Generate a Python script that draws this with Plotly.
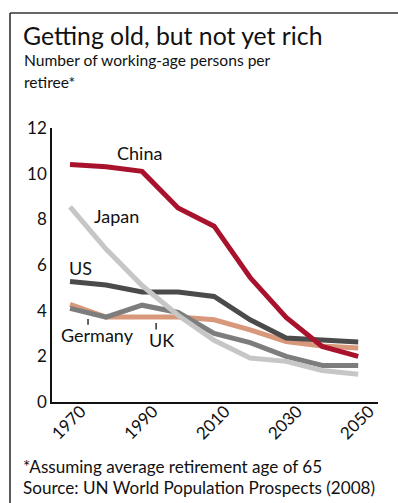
import plotly.graph_objects as go

# Decades on the horizontal axis
years = [1970, 1980, 1990, 2000, 2010, 2020, 2030, 2040, 2050]

# Working-age persons per retiree
china = [10.4, 10.3, 10.1, 8.5, 7.7, 5.45, 3.7, 2.43, 2.0]
japan = [8.55, 6.7, 5.1, 3.8, 2.7, 1.93, 1.78, 1.38, 1.22]
us = [5.28, 5.12, 4.82, 4.82, 4.62, 3.6, 2.8, 2.72, 2.63]
germany = [4.28, 3.72, 3.72, 3.72, 3.6, 3.16, 2.65, 2.45, 2.37]
uk = [4.1, 3.72, 4.24, 3.92, 3.0, 2.6, 2.0, 1.6, 1.6]

tick_years = [1970, 1990, 2010, 2030, 2050]
tick_text = ["1970", "1990", "2010", "2030", "2050"]
y_ticks = [0, 2, 4, 6, 8, 10, 12]

FONT = "Lato"
W, H = 398, 503
ML, MR, MT, MB = 52, 20, 128, 101
PW, PH = W - ML - MR, H - MT - MB


def px(x):
    return (x - ML) / PW


def py(y):
    return (H - MB - y) / PH


fig = go.Figure()

series = [
    ("Germany", germany, "#d8987b"),
    ("UK", uk, "#7d7d7d"),
    ("US", us, "#4b4b4b"),
    ("Japan", japan, "#c6c6c6"),
    ("China", china, "#a9122c"),
]
for name, vals, color in series:
    fig.add_trace(go.Scatter(
        x=years, y=vals, mode="lines", name=name,
        line=dict(color=color, width=5), showlegend=False,
    ))

# Series labels
labels = [
    ("China", 1989.2, 10.9),
    ("Japan", 1982.8, 8.15),
    ("US", 1973.0, 5.87),
    ("Germany", 1977.5, 2.95),
    ("UK", 1995.5, 2.7),
]
for text, x, y in labels:
    fig.add_annotation(x=x, y=y, text=text, showarrow=False,
                       font=dict(family=FONT, size=18, color="#111"))

# Short leader ticks for Germany and UK
for x, y0, y1 in [(1975.0, 3.38, 3.64), (1993.9, 3.17, 3.46)]:
    fig.add_shape(type="line", x0=x, x1=x, y0=y0, y1=y1,
                  line=dict(color="#111", width=1.3))

# Frame: top and left rules
fig.add_shape(type="line", xref="paper", yref="paper",
              x0=px(10), x1=px(W), y0=py(13), y1=py(13),
              line=dict(color="#333", width=1.6))
fig.add_shape(type="line", xref="paper", yref="paper",
              x0=px(10), x1=px(10), y0=py(13), y1=py(H),
              line=dict(color="#333", width=1.6))

texts = [
    ("Getting old, but not yet rich", 21, 19, 24.8),
    ("Number of working-age persons per", 22, 49.5, 15.6),
    ("retiree*", 22, 71.5, 15.6),
    ("*Assuming average retirement age of 65", 21, 453.5, 17.1),
    ("Source: UN World Population Prospects (2008)", 21, 474.5, 17.1),
]
for text, x, y, size in texts:
    fig.add_annotation(xref="paper", yref="paper", x=px(x), y=py(y),
                       xanchor="left", yanchor="top", text=text,
                       showarrow=False, font=dict(family=FONT, size=size, color="#111"))

fig.update_layout(
    width=W, height=H,
    margin=dict(l=ML, r=MR, t=MT, b=MB),
    paper_bgcolor="white", plot_bgcolor="white",
    font=dict(family=FONT, color="#111"),
    xaxis=dict(range=[1965, 2055.5], tickvals=tick_years, ticktext=tick_text,
               tickangle=-45, showgrid=False, zeroline=False,
               showline=True, linecolor="#111", linewidth=1.5,
               ticks="", tickfont=dict(size=17, family=FONT),
               ticklabelshift=11, ticklabelstandoff=-9),
    yaxis=dict(range=[0, 12], tickvals=y_ticks, showgrid=False, zeroline=False,
               showline=True, linecolor="#111", linewidth=1.5,
               ticks="", tickfont=dict(size=17, family=FONT)),
)

fig.write_html("out.html")
